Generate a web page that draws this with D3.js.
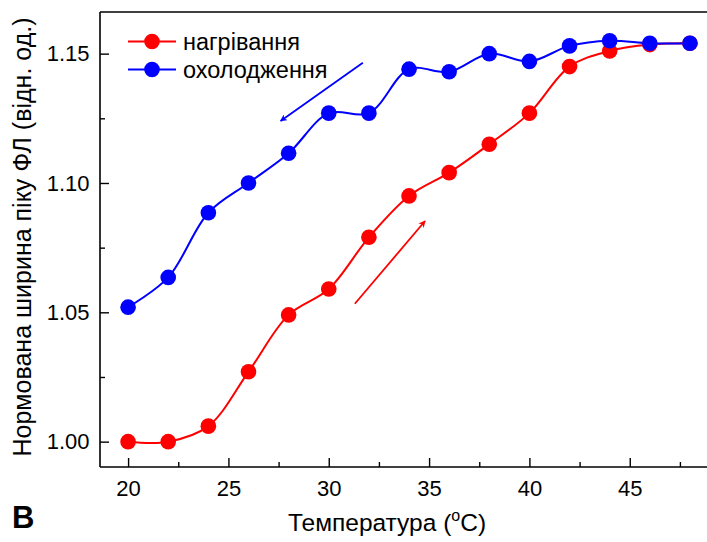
<!DOCTYPE html>
<html>
<head>
<meta charset="utf-8">
<script src="https://cdn.jsdelivr.net/npm/d3@7"></script>
<style>
  html, body { margin: 0; padding: 0; background: #fff; }
  svg { display: block; font-family: Arial, "Liberation Sans", sans-serif; }
</style>
</head>
<body>
<svg id="chart" width="707" height="542"></svg>
<script>
// Temperature points (°C)
const temperatures = [20, 22, 24, 26, 28, 30, 32, 34, 36, 38, 40, 42, 44, 46, 48];
// Normalised PL peak width while heating
const heating = [1.000, 1.000, 1.006, 1.027, 1.049, 1.059, 1.079, 1.095, 1.104, 1.115, 1.127, 1.145, 1.151, 1.1535, 1.154];
// Normalised PL peak width while cooling
const cooling = [1.052, 1.0635, 1.0885, 1.100, 1.1115, 1.127, 1.127, 1.144, 1.143, 1.150, 1.147, 1.153, 1.155, 1.154, 1.154];

const xMajorTicks = [20, 25, 30, 35, 40, 45];
const xMinorTicks = [22.5, 27.5, 32.5, 37.5, 42.5, 47.5];
const yMajorTicks = [1.00, 1.05, 1.10, 1.15];
const yMinorTicks = [1.025, 1.075, 1.125];

const seriesNames = ["нагрівання", "охолодження"];
const seriesColors = ["#ff0000", "#0000ff"];

const svg = d3.select("#chart");
const plotLeft = 100, plotTop = 12, plotBottom = 467, plotRight = 707;
const fontFamily = "Arial, 'Liberation Sans', sans-serif";

const x = d3.scaleLinear().domain([18.6, 48.85]).range([plotLeft, plotRight]);
const y = d3.scaleLinear().domain([0.9902, 1.1661]).range([plotBottom, plotTop]);

// plot frame lines (left, top, bottom)
const frame = svg.append("g").attr("stroke", "#000").attr("stroke-width", 1.6).attr("fill", "none");
frame.append("line").attr("x1", plotLeft).attr("x2", plotLeft).attr("y1", plotTop).attr("y2", plotBottom);
frame.append("line").attr("x1", plotLeft).attr("x2", plotRight).attr("y1", plotTop).attr("y2", plotTop);
frame.append("line").attr("x1", plotLeft).attr("x2", plotRight).attr("y1", plotBottom).attr("y2", plotBottom);

// x axis: ticks point inward
const xAxis = svg.append("g").attr("transform", `translate(0,${plotBottom})`)
  .call(d3.axisBottom(x).tickValues(xMajorTicks).tickSize(-9).tickFormat(d3.format("d")).tickPadding(13));
xAxis.select(".domain").remove();
xAxis.selectAll(".tick line").attr("stroke-width", 1.4);
xAxis.selectAll(".tick text").attr("font-size", 22).attr("fill", "#000").attr("font-family", fontFamily);
const xMinor = svg.append("g").attr("transform", `translate(0,${plotBottom})`)
  .call(d3.axisBottom(x).tickValues(xMinorTicks).tickSize(-5).tickFormat(""));
xMinor.select(".domain").remove();
xMinor.selectAll(".tick line").attr("stroke-width", 1.4);

// y axis: ticks point inward
const yAxis = svg.append("g").attr("transform", `translate(${plotLeft},0)`)
  .call(d3.axisLeft(y).tickValues(yMajorTicks).tickSize(-9).tickFormat(d3.format(".2f")).tickPadding(10.5));
yAxis.select(".domain").remove();
yAxis.selectAll(".tick line").attr("stroke-width", 1.4);
yAxis.selectAll(".tick text").attr("font-size", 22).attr("fill", "#000").attr("font-family", fontFamily);
const yMinor = svg.append("g").attr("transform", `translate(${plotLeft},0)`)
  .call(d3.axisLeft(y).tickValues(yMinorTicks).tickSize(-5).tickFormat(""));
yMinor.select(".domain").remove();
yMinor.selectAll(".tick line").attr("stroke-width", 1.4);

// smooth curves with markers
const line = d3.line()
  .x((d, i) => x(temperatures[i]))
  .y(d => y(d))
  .curve(d3.curveCatmullRom.alpha(0.5));

const plot = svg.append("g");
[heating, cooling].forEach((vals, k) => {
  plot.append("path").datum(vals)
    .attr("d", line)
    .attr("fill", "none")
    .attr("stroke", seriesColors[k])
    .attr("stroke-width", 2);
});
[heating, cooling].forEach((vals, k) => {
  plot.selectAll(null).data(vals).enter().append("circle")
    .attr("cx", (d, i) => x(temperatures[i]))
    .attr("cy", d => y(d))
    .attr("r", 7.8)
    .attr("fill", seriesColors[k]);
});

// direction arrows
const defs = svg.append("defs");
seriesColors.forEach((c, k) => {
  defs.append("marker")
    .attr("id", "arrow" + k)
    .attr("viewBox", "0 0 10 10")
    .attr("refX", 9).attr("refY", 5)
    .attr("markerWidth", 7).attr("markerHeight", 7)
    .attr("markerUnits", "userSpaceOnUse")
    .attr("orient", "auto")
    .append("path")
    .attr("d", "M0,0 L10,5 L0,10 L3,5 Z")
    .attr("fill", c);
});
// heating arrow (up-right), cooling arrow (down-left), in data coordinates
const arrows = [
  { from: [31.3, 1.0533], to: [34.8, 1.0853], k: 0 },
  { from: [31.7, 1.1465], to: [27.6, 1.1240], k: 1 }
];
arrows.forEach(a => {
  svg.append("line")
    .attr("x1", x(a.from[0])).attr("y1", y(a.from[1]))
    .attr("x2", x(a.to[0])).attr("y2", y(a.to[1]))
    .attr("stroke", seriesColors[a.k]).attr("stroke-width", 1.8)
    .attr("marker-end", `url(#arrow${a.k})`);
});

// legend
const legend = svg.append("g");
seriesNames.forEach((name, k) => {
  const ly = 41.5 + k * 28;
  legend.append("line").attr("x1", 128).attr("x2", 176).attr("y1", ly).attr("y2", ly)
    .attr("stroke", seriesColors[k]).attr("stroke-width", 2);
  legend.append("circle").attr("cx", 152).attr("cy", ly).attr("r", 7.8).attr("fill", seriesColors[k]);
  legend.append("text").attr("x", 183).attr("y", ly).attr("dy", "0.35em")
    .attr("font-size", 23.5).attr("fill", "#000").text(name);
});

// axis titles
svg.append("text")
  .attr("x", 387).attr("y", 531)
  .attr("text-anchor", "middle").attr("font-size", 24.5).attr("fill", "#000")
  .html('Температура (<tspan dy="-10" font-size="16">o</tspan><tspan dy="10">C)</tspan>');

svg.append("text")
  .attr("transform", "translate(31,237) rotate(-90)")
  .attr("text-anchor", "middle").attr("font-size", 25).attr("fill", "#000")
  .text("Нормована ширина піку ФЛ (відн. од.)");

// panel letter
svg.append("text")
  .attr("x", 12).attr("y", 528)
  .attr("font-size", 31).attr("font-weight", "bold").attr("fill", "#000")
  .text("B");
</script>
</body>
</html>
